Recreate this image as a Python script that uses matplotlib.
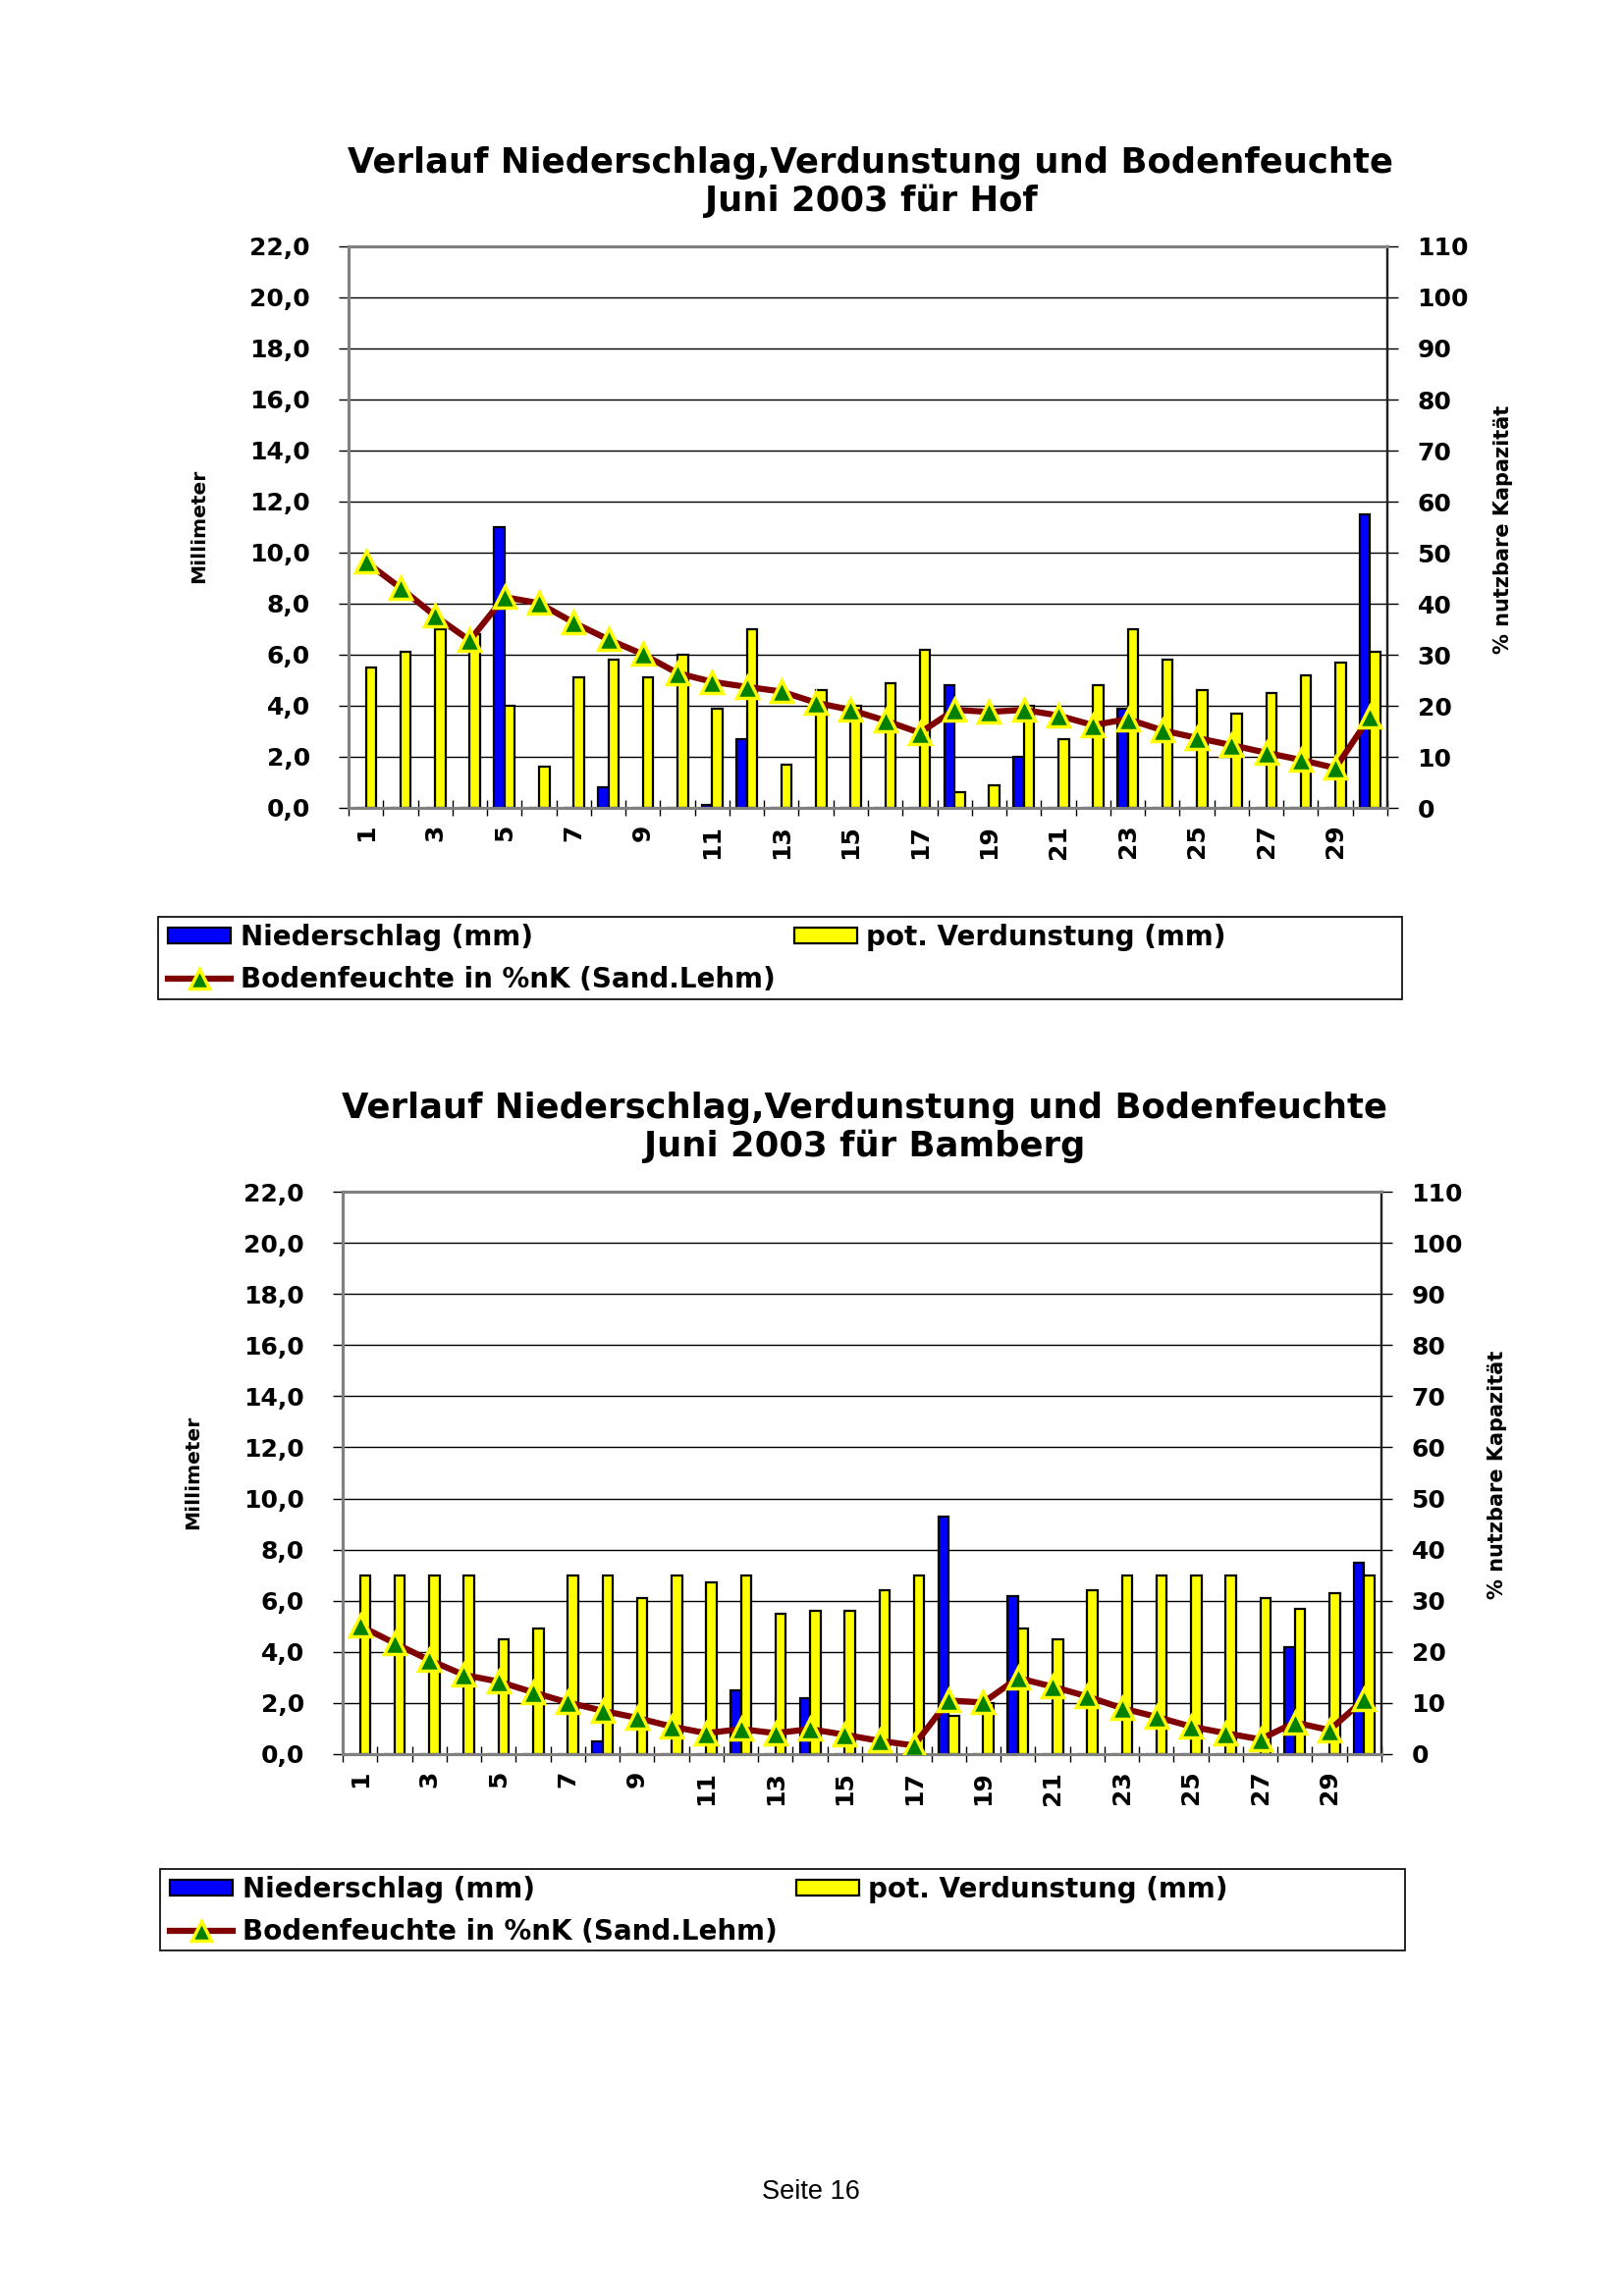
import numpy as np
import matplotlib
matplotlib.use('Agg')
import matplotlib.pyplot as plt
from matplotlib.patches import Rectangle, Patch
from matplotlib.lines import Line2D

plt.rcParams['font.family'] = ['DejaVu Sans']
plt.rcParams['font.weight'] = 'bold'

# Tage im Juni
days = list(range(1, 31))
odd_days = list(range(1, 30, 2))

# Hof
hof_nieder = [0, 0, 0, 0, 11.0, 0, 0, 0.8, 0, 0, 0.1, 2.7, 0, 0, 0,
              0, 0, 4.8, 0, 2.0, 0, 0, 3.9, 0, 0, 0, 0, 0, 0, 11.5]
hof_verd = [5.5, 6.1, 7.0, 6.8, 4.0, 1.6, 5.1, 5.8, 5.1, 6.0, 3.9, 7.0, 1.7, 4.6, 4.0,
            4.9, 6.2, 0.6, 0.9, 4.0, 2.7, 4.8, 7.0, 5.8, 4.6, 3.7, 4.5, 5.2, 5.7, 6.1]
hof_boden = [48.2, 43.1, 37.6, 32.8, 41.3, 40.1, 36.3, 33.0, 30.1, 26.4, 24.7, 23.7, 22.8, 20.6, 19.2,
             17.1, 14.7, 19.2, 18.8, 19.2, 18.1, 16.2, 17.4, 15.2, 13.7, 12.3, 10.8, 9.4, 7.8, 17.9]

# Bamberg
bam_nieder = [0, 0, 0, 0, 0, 0, 0, 0.5, 0, 0, 0, 2.5, 0, 2.2, 0,
              0, 0, 9.3, 0, 6.2, 0, 0, 0, 0, 0, 0, 0, 4.2, 0, 7.5]
bam_verd = [7.0, 7.0, 7.0, 7.0, 4.5, 4.9, 7.0, 7.0, 6.1, 7.0, 6.7, 7.0, 5.5, 5.6, 5.6,
            6.4, 7.0, 1.5, 2.0, 4.9, 4.5, 6.4, 7.0, 7.0, 7.0, 7.0, 6.1, 5.7, 6.3, 7.0]
bam_boden = [25.1, 21.7, 18.4, 15.5, 14.2, 12.1, 10.1, 8.5, 7.1, 5.4, 4.1, 4.9, 4.1, 4.9, 3.8,
             2.6, 1.7, 10.5, 10.1, 14.9, 13.2, 11.3, 9.0, 7.3, 5.4, 4.1, 2.9, 6.2, 4.7, 10.7]

mm_ticks = list(range(0, 23, 2))
pct_ticks = list(range(0, 111, 10))

W, H = 1653, 2339
fig = plt.figure(figsize=(W / 100, H / 100), dpi=100)

FS = 18  # Schriftgroesse Achsen


def fx(px):
    return px / W


def fy(py):
    return 1 - py / H


def draw_chart(box, nieder, verd, boden, title2, ytitle, legbox):
    x0, y0, x1, y1 = box  # Pixel: links, oben, rechts, unten
    ax = fig.add_axes([fx(x0), fy(y1), fx(x1) - fx(x0), fy(y0) - fy(y1)])
    x = np.array(days)
    ax.bar(x - 0.15, nieder, width=0.3, color='#0000FF', edgecolor='black', linewidth=1.6, zorder=2)
    ax.bar(x + 0.15, verd, width=0.3, color='#FFFF00', edgecolor='black', linewidth=1.6, zorder=2)
    ax.set_xlim(0.5, 30.5)
    ax.set_ylim(0, 22)
    ax.set_yticks(mm_ticks)
    ax.set_yticklabels([('%.1f' % v).replace('.', ',') for v in mm_ticks], fontsize=FS, fontweight='bold')
    ax.yaxis.grid(True, color='black', linewidth=1.0)
    ax.set_axisbelow(True)
    # Striche zwischen den Tagen, Beschriftung nur ungerade Tage
    ax.set_xticks(np.arange(0.5, 31, 1))
    ax.set_xticklabels([])
    ax.set_xticks(odd_days, minor=True)
    ax.set_xticklabels([str(d) for d in odd_days], minor=True, rotation=90,
                       fontsize=FS, fontweight='bold')
    ax.tick_params(axis='x', which='major', direction='inout', length=12, width=1)
    ax.tick_params(axis='x', which='minor', length=0, pad=12)
    ax.tick_params(axis='y', direction='out', length=7, width=1, pad=21)

    ax2 = ax.twinx()
    ax2.plot(x, boden, color='#800000', linewidth=4.5, marker='^', markersize=16,
             markerfacecolor='#008000', markeredgecolor='#FFFF00', markeredgewidth=2.5, zorder=3)
    ax2.set_ylim(0, 110)
    ax2.set_yticks(pct_ticks)
    ax2.set_yticklabels([str(v) for v in pct_ticks], fontsize=FS, fontweight='bold')
    ax2.tick_params(axis='y', direction='out', length=8, width=1, pad=14)

    for a in ax, ax2:
        for s in ('top', 'left', 'bottom'):
            a.spines[s].set_color('#808080')
            a.spines[s].set_linewidth(2.2)
        a.spines['right'].set_color('#202020')
        a.spines['right'].set_linewidth(1.6)

    # Titel
    cx = fx((x0 + x1) / 2 + 3)
    fig.text(cx, fy(y0 - 85), 'Verlauf Niederschlag,Verdunstung und Bodenfeuchte',
             ha='center', va='center', fontsize=25.5, fontweight='bold')
    fig.text(cx, fy(y0 - 46), title2, ha='center', va='center', fontsize=25.5, fontweight='bold')

    # Achsentitel
    fig.text(fx(x0 - 152), fy((y0 + y1) / 2 - 1), 'Millimeter', rotation=90,
             ha='center', va='center', fontsize=14.5, fontweight='bold')
    fig.text(fx(x1 + 118), fy((y0 + y1) / 2 + 2), ytitle, rotation=90,
             ha='center', va='center', fontsize=15, fontweight='bold')

    # Legende
    lx0, ly0, lx1, ly1 = legbox
    fig.add_artist(Rectangle((fx(lx0), fy(ly1)), fx(lx1) - fx(lx0), fy(ly0) - fy(ly1),
                             transform=fig.transFigure, facecolor='none', edgecolor='black', linewidth=1.2))
    h_n = Patch(facecolor='#0000FF', edgecolor='black', linewidth=1.6)
    h_v = Patch(facecolor='#FFFF00', edgecolor='black', linewidth=1.6)
    h_b = Line2D([], [], color='#800000', linewidth=4.5, marker='^', markersize=15,
                 markerfacecolor='#008000', markeredgecolor='#FFFF00', markeredgewidth=2.5)
    fig.legend([h_n, h_b, h_v],
               ['Niederschlag (mm)', 'Bodenfeuchte in %nK (Sand.Lehm)', 'pot. Verdunstung (mm)'],
               ncol=2, loc='upper left', bbox_to_anchor=(fx(lx0 + 10), fy(ly0 + 7)),
               frameon=False, prop={'weight': 'bold', 'size': 20},
               handlelength=2.3, handleheight=0.5, handletextpad=0.35,
               labelspacing=0.55, columnspacing=0.7, borderpad=0, borderaxespad=0)


draw_chart((355, 251, 1413, 823), hof_nieder, hof_verd, hof_boden,
           'Juni 2003 für Hof', '% nutzbare Kapazität', (161, 934, 1428, 1018))
draw_chart((349, 1214, 1407, 1787), bam_nieder, bam_verd, bam_boden,
           'Juni 2003 für Bamberg', '% nutzbare Kapazität', (163, 1904, 1431, 1987))

fig.text(fx(826), fy(2233), 'Seite 16', ha='center', va='center', fontsize=19.5,
         fontweight='normal', family=['Liberation Sans', 'DejaVu Sans'])

fig.savefig('out.png', dpi=100)
